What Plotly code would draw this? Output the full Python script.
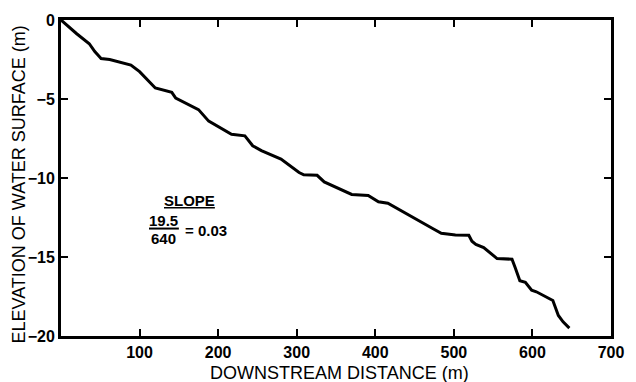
import plotly.graph_objects as go

distance_m = [0, 20, 36, 43, 49, 51, 62, 89, 100, 120, 141, 146, 175, 188, 217, 234, 244, 255, 280,
              303, 309, 326, 335, 370, 391, 404, 416, 423, 440, 452, 473, 484, 502, 519, 523, 528,
              538, 555, 574, 578, 584, 591, 599, 605, 620, 626, 633, 639, 647]
elevation_m = [0, -0.87, -1.5, -2.0, -2.33, -2.44, -2.5, -2.85, -3.27, -4.3, -4.58, -4.94, -5.67, -6.4,
               -7.23, -7.33, -7.96, -8.27, -8.8, -9.65, -9.8, -9.83, -10.25, -11.04, -11.1, -11.5,
               -11.6, -11.8, -12.3, -12.65, -13.2, -13.5, -13.6, -13.62, -14.0, -14.2, -14.4, -15.1,
               -15.14, -15.67, -16.5, -16.6, -17.1, -17.2, -17.6, -17.75, -18.7, -19.1, -19.5]

x_tickvals = [100, 200, 300, 400, 500, 600, 700]
y_tickvals = [0, -5, -10, -15, -20]

font_family = "Liberation Sans, Arial, sans-serif"

fig = go.Figure()
fig.add_trace(go.Scatter(x=distance_m, y=elevation_m, mode="lines",
                         line=dict(color="black", width=3), showlegend=False,
                         line_shape="linear"))

axis_common = dict(showline=True, linecolor="black", linewidth=3, mirror="ticks",
                   ticks="inside", ticklen=7, tickwidth=2, tickcolor="black",
                   showgrid=False, zeroline=False,
                   tickfont=dict(family=font_family, size=16, color="black", weight="bold"))

fig.update_xaxes(range=[0, 700], tickvals=x_tickvals, **axis_common)
fig.update_yaxes(range=[-20, 0], tickvals=y_tickvals, **axis_common)

ann_font = dict(family=font_family, size=15, color="black", weight="bold")
fig.add_annotation(x=164, y=-11.4, xref="x", yref="y", text="<u>SLOPE</u>",
                   showarrow=False, font=ann_font)
fig.add_annotation(x=131, y=-12.7, xref="x", yref="y", text="19.5",
                   showarrow=False, font=ann_font)
fig.add_annotation(x=131, y=-13.8, xref="x", yref="y", text="640",
                   showarrow=False, font=ann_font)
fig.add_annotation(x=185, y=-13.3, xref="x", yref="y", text="= 0.03",
                   showarrow=False, font=ann_font)
fig.add_shape(type="line", x0=112, x1=150, y0=-13.2, y1=-13.2, xref="x", yref="y",
              line=dict(color="black", width=2))

title_font = dict(family=font_family, size=18, color="black")
fig.add_annotation(x=0.507, y=-0.118, xref="paper", yref="paper", yanchor="middle",
                   text="DOWNSTREAM DISTANCE (m)", showarrow=False, font=title_font)
fig.add_annotation(x=-0.076, y=0.48, xref="paper", yref="paper", xanchor="center",
                   text="ELEVATION OF WATER SURFACE (m)", textangle=-90,
                   showarrow=False, font=title_font)

fig.update_layout(width=636, height=382, margin=dict(l=61, r=19, t=16, b=46),
                  plot_bgcolor="white", paper_bgcolor="white")

fig.write_html("out.html")
